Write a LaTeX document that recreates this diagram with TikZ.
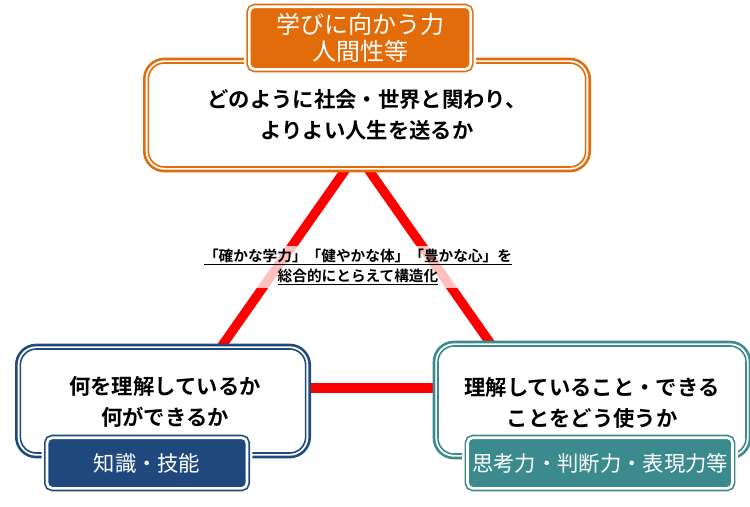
\documentclass[tikz,border=0pt]{standalone}
\usepackage{fontspec}
\setmainfont{Noto Sans CJK JP}
\newfontfamily\boldjp{Noto Sans CJK JP Bold}
\definecolor{topcol}{HTML}{E36C0A}
\definecolor{leftcol}{HTML}{1F497D}
\definecolor{rightcol}{HTML}{3A8A8E}
\tikzset{
  mainbox/.style={draw=white, line width=4pt, fill=white, rounded corners=12pt,
    preaction={draw=#1, line width=8pt}, postaction={draw=#1, line width=1.2pt}},
  tagbox/.style={fill=#1, draw=white, line width=2pt, rounded corners=4pt, text=white,
    font=\fontsize{16}{18}\selectfont, preaction={draw=white, line width=8pt},
    preaction={draw=#1, line width=4.5pt}},
  maintext/.style={align=center, font=\boldjp\fontsize{16}{23}\selectfont},
  redline/.style={draw=red, line width=7pt}
}
\begin{document}
\begin{tikzpicture}[x=0.75pt, y=-0.75pt]
    \useasboundingbox (0,0) rectangle (750,507);
    % corners of the triangle
    \coordinate (tl) at (346,169);
    \coordinate (tr) at (368,169);
    \coordinate (bl) at (219,350);
    \coordinate (br) at (493,347);
    \coordinate (ml) at (305,388);
    \coordinate (mr) at (440,388);
    \draw[redline] (tl) -- (bl);
    \draw[redline] (tr) -- (br);
    \draw[redline] (ml) -- (mr);
    % boxes
    \node[mainbox=topcol, minimum width=328pt, minimum height=78pt] (top) at (367,115) {};
    \node[maintext] (toptxt) at (367,115) {どのように社会・世界と関わり、\\よりよい人生を送るか};
    \node[tagbox=topcol, minimum width=166pt, minimum height=47pt, align=center,
      font=\fontsize{18}{20}\selectfont] (head) at (360,38) {学びに向かう力\\人間性等};
    \node[mainbox=leftcol, minimum width=214pt, minimum height=78pt] (left) at (163,401) {};
    \node[maintext] (lefttxt) at (165,402) {何を理解しているか\\何ができるか};
    \node[tagbox=leftcol, minimum width=150pt, minimum height=38pt] (know) at (147,463) {知識・技能};
    \node[mainbox=rightcol, minimum width=231pt, minimum height=81pt] (right) at (592,400) {};
    \node[maintext] (righttxt) at (592,403) {理解していること・できる\\ことをどう使うか};
    \node[tagbox=rightcol, minimum width=195pt, minimum height=38pt] (think) at (600,463) {思考力・判断力・表現力等};
    % centre label
    \node[fill=white, fill opacity=0.75, text opacity=1, align=center, inner sep=2pt,
      font=\boldjp\fontsize{11}{15}\selectfont] (centre) at (358,267)
      {\underline{「確かな学力」「健やかな体」「豊かな心」を}\\\underline{総合的にとらえて構造化}};
\end{tikzpicture}
\end{document}
